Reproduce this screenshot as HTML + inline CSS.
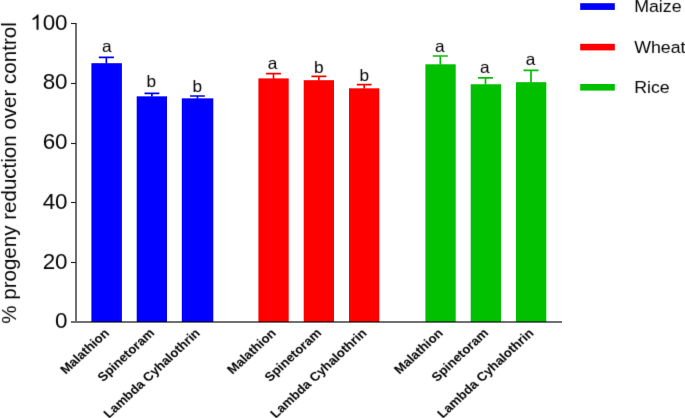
<!DOCTYPE html>
<html><head><meta charset="utf-8"><style>
html,body{margin:0;padding:0;background:#fff;width:685px;height:418px;overflow:hidden}
svg{position:absolute;left:0;top:0;display:block;-webkit-font-smoothing:antialiased;will-change:transform}
text{font-family:"Liberation Sans",sans-serif;fill:#000}
</style></head><body>
<svg width="685" height="418" viewBox="0 0 685 418">
<defs><filter id="soft" x="0" y="0" width="685" height="418" filterUnits="userSpaceOnUse" color-interpolation-filters="sRGB"><feConvolveMatrix order="3" kernelMatrix="0 1 0 1 6 1 0 1 0" edgeMode="none" preserveAlpha="false"/></filter></defs>
<rect x="91.4" y="63.2" width="30.50" height="258.80" fill="#0000ff"/>
<path d="M106.35 57.43V63.70M98.80 57.43H113.90" stroke="#0000ff" stroke-width="1.7" fill="none"/>
<rect x="136.7" y="96.35" width="30.30" height="225.65" fill="#0000ff"/>
<path d="M151.90 93.43V96.85M144.50 93.43H159.30" stroke="#0000ff" stroke-width="1.7" fill="none"/>
<rect x="181.8" y="98.35" width="31.50" height="223.65" fill="#0000ff"/>
<path d="M197.45 96.00V98.85M190.10 96.00H204.80" stroke="#0000ff" stroke-width="1.7" fill="none"/>
<rect x="258.4" y="78.4" width="30.30" height="243.60" fill="#ff0000"/>
<path d="M273.50 73.55V78.90M266.10 73.55H280.90" stroke="#ff0000" stroke-width="1.7" fill="none"/>
<rect x="303.7" y="80.2" width="30.30" height="241.80" fill="#ff0000"/>
<path d="M318.85 76.42V80.70M311.40 76.42H326.30" stroke="#ff0000" stroke-width="1.7" fill="none"/>
<rect x="349.0" y="88.3" width="30.30" height="233.70" fill="#ff0000"/>
<path d="M364.20 84.60V88.80M356.80 84.60H371.60" stroke="#ff0000" stroke-width="1.7" fill="none"/>
<rect x="425.4" y="64.3" width="30.30" height="257.70" fill="#00c000"/>
<path d="M440.30 56.00V64.80M432.80 56.00H447.80" stroke="#00c000" stroke-width="1.7" fill="none"/>
<rect x="470.7" y="84.26" width="30.30" height="237.74" fill="#00c000"/>
<path d="M485.50 77.84V84.76M478.10 77.84H492.90" stroke="#00c000" stroke-width="1.7" fill="none"/>
<rect x="516.0" y="82.2" width="30.30" height="239.80" fill="#00c000"/>
<path d="M531.00 70.42V82.70M523.50 70.42H538.50" stroke="#00c000" stroke-width="1.7" fill="none"/>
<rect x="75" y="23" width="2" height="298" fill="#000" fill-opacity="0.56"/>
<rect x="71" y="321" width="491" height="2" fill="#000" fill-opacity="0.56"/>
<line x1="71" y1="262.5" x2="76" y2="262.5" stroke="#262626" stroke-width="1.15"/>
<line x1="71" y1="202.5" x2="76" y2="202.5" stroke="#262626" stroke-width="1.15"/>
<line x1="71" y1="143.5" x2="76" y2="143.5" stroke="#262626" stroke-width="1.15"/>
<line x1="71" y1="83.5" x2="76" y2="83.5" stroke="#262626" stroke-width="1.15"/>
<line x1="71" y1="23.5" x2="76" y2="23.5" stroke="#262626" stroke-width="1.15"/>
<rect x="580.2" y="3.20" width="34.6" height="6.7" fill="#0000ff"/>
<rect x="580.2" y="43.80" width="34.6" height="6.6" fill="#ff0000"/>
<rect x="580.2" y="84.00" width="34.6" height="6.6" fill="#00c000"/>
<g filter="url(#soft)">
<text transform="translate(106.85,51.70) scale(1.06,1)" text-anchor="middle" font-size="16.3">a</text>
<text transform="translate(109.95,333.80) scale(1.08,1) rotate(-45)" text-anchor="end" font-size="12.45" font-weight="bold">Malathion</text>
<text transform="translate(151.30,86.90) scale(1.06,1)" text-anchor="middle" font-size="16.3">b</text>
<text transform="translate(155.15,333.80) scale(1.08,1) rotate(-45)" text-anchor="end" font-size="12.45" font-weight="bold">Spinetoram</text>
<text transform="translate(197.30,92.10) scale(1.06,1)" text-anchor="middle" font-size="16.3">b</text>
<text transform="translate(200.85,333.80) scale(1.08,1) rotate(-45)" text-anchor="end" font-size="12.45" font-weight="bold">Lambda Cyhalothrin</text>
<text transform="translate(272.65,68.60) scale(1.06,1)" text-anchor="middle" font-size="16.3">a</text>
<text transform="translate(276.85,333.80) scale(1.08,1) rotate(-45)" text-anchor="end" font-size="12.45" font-weight="bold">Malathion</text>
<text transform="translate(318.75,72.50) scale(1.06,1)" text-anchor="middle" font-size="16.3">b</text>
<text transform="translate(322.15,333.80) scale(1.08,1) rotate(-45)" text-anchor="end" font-size="12.45" font-weight="bold">Spinetoram</text>
<text transform="translate(364.30,80.70) scale(1.06,1)" text-anchor="middle" font-size="16.3">b</text>
<text transform="translate(367.45,333.80) scale(1.08,1) rotate(-45)" text-anchor="end" font-size="12.45" font-weight="bold">Lambda Cyhalothrin</text>
<text transform="translate(439.75,51.90) scale(1.06,1)" text-anchor="middle" font-size="16.3">a</text>
<text transform="translate(443.85,333.80) scale(1.08,1) rotate(-45)" text-anchor="end" font-size="12.45" font-weight="bold">Malathion</text>
<text transform="translate(484.90,73.20) scale(1.06,1)" text-anchor="middle" font-size="16.3">a</text>
<text transform="translate(489.15,333.80) scale(1.08,1) rotate(-45)" text-anchor="end" font-size="12.45" font-weight="bold">Spinetoram</text>
<text transform="translate(530.65,64.50) scale(1.06,1)" text-anchor="middle" font-size="16.3">a</text>
<text transform="translate(534.45,333.80) scale(1.08,1) rotate(-45)" text-anchor="end" font-size="12.45" font-weight="bold">Lambda Cyhalothrin</text>
<text transform="translate(67.6,328.30) scale(1.1,1.04)" text-anchor="end" font-size="20.4">0</text>
<text transform="translate(67.6,268.59) scale(1.1,1.04)" text-anchor="end" font-size="20.4">20</text>
<text transform="translate(67.6,208.88) scale(1.1,1.04)" text-anchor="end" font-size="20.4">40</text>
<text transform="translate(67.6,149.17) scale(1.1,1.04)" text-anchor="end" font-size="20.4">60</text>
<text transform="translate(67.6,89.46) scale(1.1,1.04)" text-anchor="end" font-size="20.4">80</text>
<text transform="translate(67.6,29.75) scale(1.1,1.04)" text-anchor="end" font-size="20.4">00</text>
<path transform="translate(30.16,29.75) scale(0.01096,-0.01036)" d="M763 0L583 0L583 1147Q518 1085 412 1023Q306 961 222 930L222 1104Q373 1175 486 1276Q599 1377 646 1472L763 1472Z" fill="#000"/>
<text transform="translate(16,173) scale(1.02,1) rotate(-90)" text-anchor="middle" font-size="20.55">% progeny reduction over control</text>
<text transform="translate(634.2,12.20) scale(1.09,1)" font-size="16.3">Maize</text>
<text transform="translate(634.2,52.90) scale(1.09,1)" font-size="16.3">Wheat</text>
<text transform="translate(634.2,92.60) scale(1.09,1)" font-size="16.3">Rice</text>
</g>
</svg></body></html>
